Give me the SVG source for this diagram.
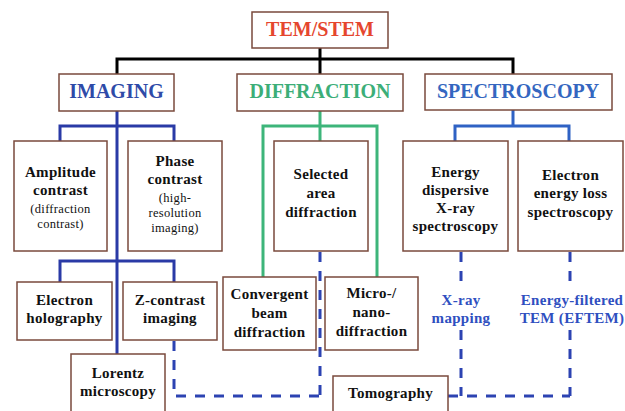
<svg xmlns="http://www.w3.org/2000/svg" width="625" height="411" viewBox="0 0 625 411">
<style>
.box{fill:#fff;stroke:#7a4a3c;stroke-width:1.5}
text{font-family:"Liberation Serif","Times New Roman",serif;text-anchor:middle;fill:#111}
.h{font-size:20px;font-weight:bold}
.b{font-size:15px;font-weight:bold;letter-spacing:0.3px}
.s{font-size:12.5px;letter-spacing:0.3px}
.blk{stroke:#000;stroke-width:3;fill:none}
.img{stroke:#2a3aa6;stroke-width:3;fill:none}
.grn{stroke:#3db57a;stroke-width:3;fill:none}
.spc{stroke:#2f62c4;stroke-width:3;fill:none}
.dsh{stroke:#2c43b2;stroke-width:3;fill:none;stroke-dasharray:10 9}
.lbl{font-size:15px;font-weight:bold;fill:#2f4fc0;letter-spacing:0.3px}
</style>
<rect width="625" height="411" fill="#fff"/>
<g id="connectors">
<path class="blk" d="M320 48V74M117 74V59H513V74"/>
<path class="img" d="M117 111V354M60 141V126H174V141M60 282V261H174V282"/>
<path class="grn" d="M320 111V141M263 277V126H377V277"/>
<path class="spc" d="M513 110V126M455 141V126H569V141"/>
<path class="dsh" d="M174 341V396H320M320 252V396"/>
<path class="dsh" d="M448 396H570"/>
<path class="dsh" d="M461 252V286M461 330V396"/>
<path class="dsh" d="M570 252V290M570 330V396"/>
</g>
<g id="tem"><rect class="box" x="252" y="12" width="136" height="36"/><text class="h" x="320" y="36" fill="#e5462e" style="fill:#e5462e">TEM/STEM</text></g>
<g id="imaging"><rect class="box" x="59" y="74" width="115" height="37"/><text class="h" x="116.5" y="98" style="fill:#2e4aa8">IMAGING</text></g>
<g id="diffraction"><rect class="box" x="237" y="74" width="166" height="37"/><text class="h" x="320" y="98" style="fill:#3cae78">DIFFRACTION</text></g>
<g id="spectroscopy"><rect class="box" x="425" y="74" width="187" height="36"/><text class="h" x="518" y="98" style="fill:#3466c0">SPECTROSCOPY</text></g>
<g id="amplitude"><rect class="box" x="14" y="141" width="93" height="110"/><text class="b" x="60.5" y="177">Amplitude</text><text class="b" x="60.5" y="195">contrast</text><text class="s" x="60.5" y="213">(diffraction</text><text class="s" x="60.5" y="228">contrast)</text></g>
<g id="phase"><rect class="box" x="128" y="141" width="94" height="110"/><text class="b" x="175" y="166">Phase</text><text class="b" x="175" y="184">contrast</text><text class="s" x="175" y="202">(high-</text><text class="s" x="175" y="217">resolution</text><text class="s" x="175" y="232">imaging)</text></g>
<g id="selected"><rect class="box" x="274" y="141" width="94" height="110"/><text class="b" x="321" y="179">Selected</text><text class="b" x="321" y="198">area</text><text class="b" x="321" y="217">diffraction</text></g>
<g id="eds"><rect class="box" x="403" y="141" width="105" height="110"/><text class="b" x="455.5" y="177">Energy</text><text class="b" x="455.5" y="195">dispersive</text><text class="b" x="455.5" y="213">X-ray</text><text class="b" x="455.5" y="231">spectroscopy</text></g>
<g id="eels"><rect class="box" x="518" y="141" width="105" height="110"/><text class="b" x="570.5" y="180">Electron</text><text class="b" x="570.5" y="198">energy loss</text><text class="b" x="570.5" y="217">spectroscopy</text></g>
<g id="holography"><rect class="box" x="17" y="282" width="95" height="58"/><text class="b" x="64.5" y="305">Electron</text><text class="b" x="64.5" y="323">holography</text></g>
<g id="zcontrast"><rect class="box" x="123" y="282" width="94" height="58"/><text class="b" x="170" y="305">Z-contrast</text><text class="b" x="170" y="323">imaging</text></g>
<g id="convergent"><rect class="box" x="223" y="277" width="93" height="73"/><text class="b" x="269.5" y="299">Convergent</text><text class="b" x="269.5" y="318">beam</text><text class="b" x="269.5" y="337">diffraction</text></g>
<g id="micro"><rect class="box" x="325" y="277" width="93" height="73"/><text class="b" x="371.5" y="298">Micro-/</text><text class="b" x="371.5" y="317">nano-</text><text class="b" x="371.5" y="336">diffraction</text></g>
<g id="lorentz"><rect class="box" x="71" y="354" width="94" height="70"/><text class="b" x="118" y="378">Lorentz</text><text class="b" x="118" y="396">microscopy</text></g>
<g id="tomography"><rect class="box" x="333" y="376" width="115" height="50"/><text class="b" x="390.5" y="398">Tomography</text></g>
<g id="xray"><text class="lbl" x="461" y="305">X-ray</text><text class="lbl" x="461" y="323">mapping</text></g>
<g id="eftem"><text class="lbl" x="572" y="305">Energy-filtered</text><text class="lbl" x="572" y="323">TEM (EFTEM)</text></g>
</svg>
